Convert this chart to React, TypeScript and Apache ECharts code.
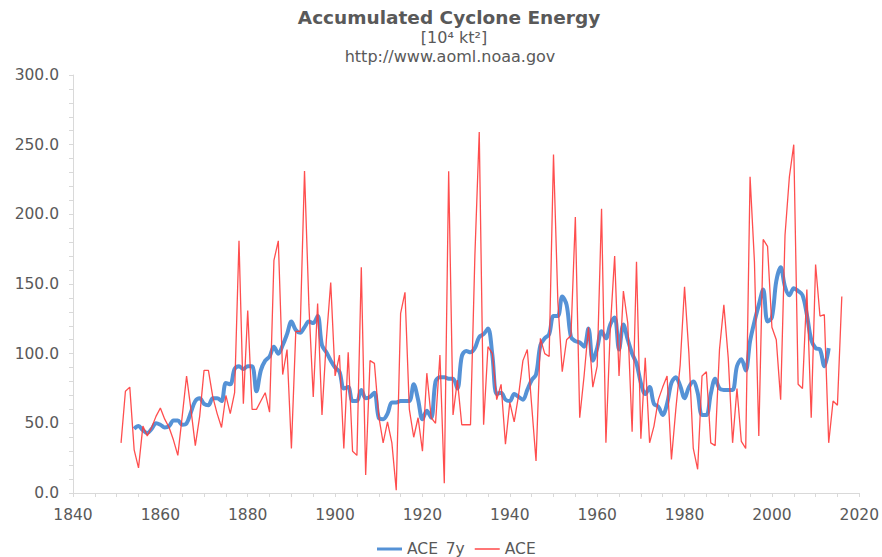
import React, { useEffect, useRef } from "react";
import * as echarts from "echarts";

const ACE_START_YEAR = 1851;
const aceValues = [
  36, 73, 76, 31, 18, 48, 41, 47, 55, 61,
  53, 47, 38, 27, 55, 84, 60, 34, 55, 88,
  88, 69, 57, 47, 70, 57, 72, 181, 64, 131,
  60, 60, 66, 72, 58, 167, 181, 85, 103, 32,
  116, 116, 231, 135, 69, 136, 56, 110, 151, 84,
  99, 32, 101, 30, 27, 162, 13, 95, 93, 55,
  36, 51, 36, 2, 129, 144, 60, 40, 54, 30,
  86, 54, 50, 99, 7, 231, 56, 81, 49, 49,
  49, 170, 259, 49, 105, 100, 67, 78, 35, 65,
  51, 70, 95, 103, 63, 23, 111, 100, 98, 243,
  137, 87, 110, 113, 198, 54, 84, 119, 76, 91,
  204, 36, 118, 170, 84, 145, 122, 44, 166, 39,
  97, 36, 48, 67, 76, 84, 24, 60, 92, 148,
  100, 32, 17, 84, 87, 36, 34, 103, 135, 97,
  36, 75, 37, 32, 227, 166, 41, 182, 177, 119,
  110, 67, 185, 227, 250, 78, 75, 146, 54, 164,
  127, 128, 36, 66, 63, 141,
];

const ACE7Y_START_YEAR = 1854;
const ace7yValues = [
  46, 48, 45, 43, 46, 50, 49, 47, 48, 52,
  52, 49, 50, 58, 66, 68, 64, 63, 68, 68,
  66, 79, 78, 89, 91, 89, 91, 91, 73, 88,
  95, 98, 105, 100, 106, 114, 123, 117, 115, 119,
  123, 122, 127, 106, 101, 95, 90, 87, 75, 76,
  66, 66, 74, 68, 69, 72, 54, 53, 57, 65,
  65, 66, 66, 66, 78, 67, 53, 59, 54, 80,
  83, 83, 82, 82, 75, 98, 102, 101, 104, 112,
  114, 118, 99, 71, 72, 67, 66, 71, 69, 67,
  74, 81, 85, 106, 111, 114, 127, 127, 141, 135,
  112, 109, 108, 105, 118, 95, 104, 116, 111, 121,
  126, 103, 121, 110, 100, 93, 79, 71, 76, 64,
  62, 56, 64, 79, 83, 77, 68, 76, 80, 72,
  56, 56, 71, 82, 75, 74, 74, 74, 91, 96,
  88, 109, 123, 135, 146, 123, 126, 152, 162, 148,
  142, 147, 145, 142, 128, 110, 104, 103, 91, 104,
];

const seriesNames = ["ACE_7y", "ACE"];
const titleText = "Accumulated Cyclone Energy";
const unitText = "[10\u2074 kt\u00B2]";
const sourceText = "http://www.aoml.noaa.gov";

const FONT = "'DejaVu Sans', Verdana, sans-serif";
const TEXT_COLOR = "#595959";
const BLUE = "#5592d6";
const RED = "#ff3b3b";

export default function App() {
  const ref = useRef<HTMLDivElement>(null);

  useEffect(() => {
    document.body.style.margin = "0";
    if (!ref.current) return;
    const chart = echarts.init(ref.current, undefined, { renderer: "svg" });

    const acePairs = aceValues.map((v, i) => [ACE_START_YEAR + i, v]);
    const ace7yPairs = ace7yValues.map((v, i) => [ACE7Y_START_YEAR + i, v]);

    chart.setOption({
      animation: false,
      backgroundColor: "#ffffff",
      textStyle: { fontFamily: FONT },
      graphic: [
        {
          type: "text",
          x: 449,
          y: 17,
          style: {
            text: titleText,
            fontFamily: FONT,
            fontSize: 18.5,
            fontWeight: "bold",
            fill: TEXT_COLOR,
            textAlign: "center",
            textVerticalAlign: "middle",
          },
        },
        {
          type: "text",
          x: 454,
          y: 37,
          style: {
            text: unitText,
            fontFamily: FONT,
            fontSize: 16,
            fill: TEXT_COLOR,
            textAlign: "center",
            textVerticalAlign: "middle",
          },
        },
        {
          type: "text",
          x: 450,
          y: 56,
          style: {
            text: sourceText,
            fontFamily: FONT,
            fontSize: 16,
            fill: TEXT_COLOR,
            textAlign: "center",
            textVerticalAlign: "middle",
          },
        },
      ],
      legend: {
        left: 372,
        top: 536,
        itemWidth: 25,
        itemHeight: 14,
        itemGap: 10,
        symbolKeepAspect: true,
        data: [
          { name: seriesNames[0], icon: "path://M0,0H25V3H0Z", itemStyle: { color: BLUE } },
          { name: seriesNames[1], icon: "path://M0,0H25V1.4H0Z", itemStyle: { color: RED } },
        ],
        textStyle: { fontFamily: FONT, fontSize: 15.5, color: TEXT_COLOR },
      },
      grid: { left: 73, right: 20, top: 75, bottom: 64 },
      xAxis: {
        type: "value",
        min: 1840,
        max: 2020,
        interval: 20,
        axisLine: { show: true, lineStyle: { color: "#d9d9d9", width: 1 } },
        axisTick: { show: true, length: 4, lineStyle: { color: "#d9d9d9" } },
        minorTick: { show: true, splitNumber: 4, length: 4, lineStyle: { color: "#d9d9d9" } },
        splitLine: { show: false },
        axisLabel: {
          margin: 14,
          fontFamily: FONT,
          fontSize: 15.5,
          color: TEXT_COLOR,
          formatter: (v: number) => String(v),
        },
      },
      yAxis: {
        type: "value",
        min: 0,
        max: 300,
        interval: 50,
        axisLine: { show: true, lineStyle: { color: "#d9d9d9", width: 1 } },
        axisTick: { show: true, length: 4, lineStyle: { color: "#d9d9d9" } },
        minorTick: { show: true, splitNumber: 5, length: 4, lineStyle: { color: "#d9d9d9" } },
        splitLine: { show: false },
        axisLabel: {
          margin: 14,
          fontFamily: FONT,
          fontSize: 15.5,
          color: TEXT_COLOR,
          formatter: (v: number) => v.toFixed(1),
        },
      },
      series: [
        {
          name: seriesNames[0],
          type: "line",
          data: ace7yPairs,
          symbol: "none",
          smooth: 0.35,
          lineStyle: { color: BLUE, width: 4 },
          itemStyle: { color: BLUE },
          z: 2,
        },
        {
          name: seriesNames[1],
          type: "line",
          data: acePairs,
          symbol: "none",
          smooth: false,
          lineStyle: { color: RED, width: 1.3, opacity: 0.9 },
          itemStyle: { color: RED },
          z: 3,
        },
      ],
    });

    return () => chart.dispose();
  }, []);

  return <div ref={ref} style={{ width: 882, height: 557 }} />;
}
